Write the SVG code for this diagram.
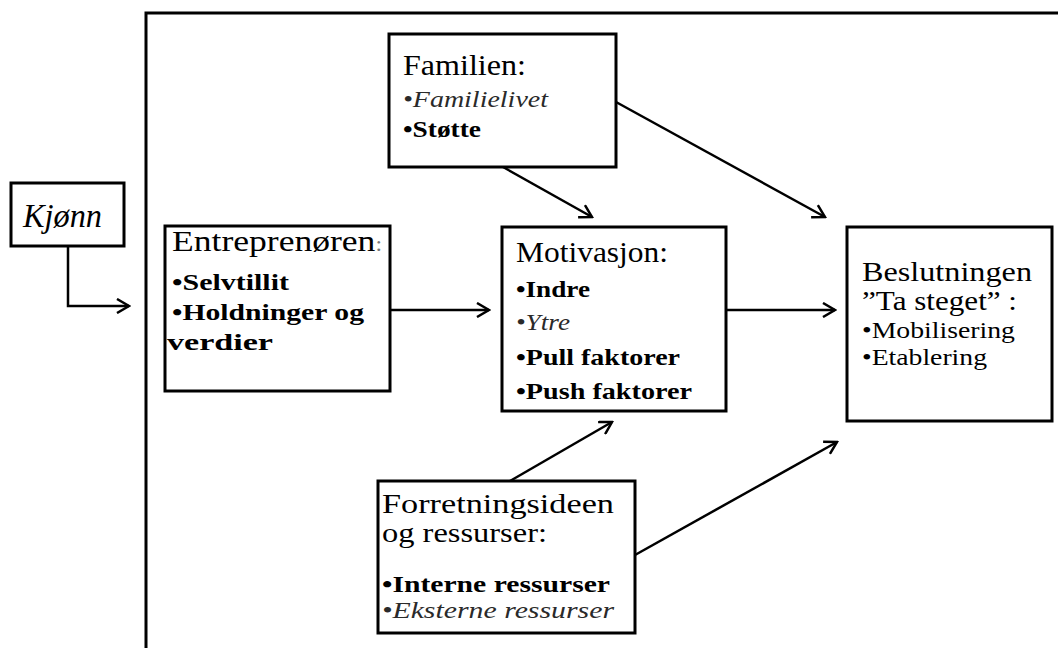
<svg xmlns="http://www.w3.org/2000/svg" width="1058" height="648" viewBox="0 0 1058 648">
<style>
.box{fill:#fff;stroke:#000;stroke-width:3}
.t{font-family:'Liberation Serif',Tinos,'Times New Roman',Times,serif;fill:#000}
.h{font-size:30px}
.b{font-size:24px;font-weight:bold}
.i{font-size:24px;font-style:italic;fill:#2a2a2a}
.n{font-size:24px}
.c{fill:none;stroke:#000;stroke-width:2.5}
</style>
<defs>
<marker id="ah" markerWidth="16" markerHeight="16" viewBox="-14 -8 16 16" refX="0" refY="0" orient="auto" markerUnits="userSpaceOnUse">
<path d="M-12,-7 L0,0 L-12,7" fill="none" stroke="#000" stroke-width="2.5"/>
</marker>
</defs>
<rect width="1058" height="648" fill="#fff"/>
<rect id="frame" x="146" y="13" width="930" height="660" fill="none" stroke="#000" stroke-width="3"/>
<g id="connectors">
<path class="c" d="M68,246 V306 H129" marker-end="url(#ah)"/>
<path class="c" d="M390,310 H489" marker-end="url(#ah)"/>
<path class="c" d="M726,310 H835" marker-end="url(#ah)"/>
<path class="c" d="M503,167 L592,217" marker-end="url(#ah)"/>
<path class="c" d="M616,102 L825,217" marker-end="url(#ah)"/>
<path class="c" d="M510,481 L612,422" marker-end="url(#ah)"/>
<path class="c" d="M635,555 L837,442" marker-end="url(#ah)"/>
</g>
<g id="kjonn">
<rect class="box" x="11" y="183" width="113" height="63"/>
<text class="t" x="23" y="227" font-size="34" font-style="italic" textLength="79" lengthAdjust="spacingAndGlyphs">Kjønn</text>
</g>
<g id="familien">
<rect class="box" x="389" y="34" width="227" height="133"/>
<text class="t h" x="403" y="75" textLength="123" lengthAdjust="spacingAndGlyphs">Familien:</text>
<text class="t i" x="403" y="107" textLength="145" lengthAdjust="spacingAndGlyphs">•Familielivet</text>
<text class="t b" x="403" y="137" textLength="78" lengthAdjust="spacingAndGlyphs">•Støtte</text>
</g>
<g id="entreprenoren">
<rect class="box" x="165" y="226" width="225" height="165"/>
<text class="t h" x="172" y="251" textLength="210" lengthAdjust="spacingAndGlyphs">Entreprenøren<tspan font-size="20" fill="#777">:</tspan></text>
<text class="t b" x="172" y="290" textLength="117" lengthAdjust="spacingAndGlyphs">•Selvtillit</text>
<text class="t b" x="172" y="320" textLength="192" lengthAdjust="spacingAndGlyphs">•Holdninger og</text>
<text class="t b" x="167" y="350" textLength="106" lengthAdjust="spacingAndGlyphs">verdier</text>
</g>
<g id="motivasjon">
<rect class="box" x="502" y="227" width="224" height="184"/>
<text class="t h" x="516" y="262" textLength="152" lengthAdjust="spacingAndGlyphs">Motivasjon:</text>
<text class="t b" x="516" y="297" textLength="74" lengthAdjust="spacingAndGlyphs">•Indre</text>
<text class="t i" x="516" y="330" textLength="54" lengthAdjust="spacingAndGlyphs">•Ytre</text>
<text class="t b" x="516" y="365" textLength="164" lengthAdjust="spacingAndGlyphs">•Pull faktorer</text>
<text class="t b" x="516" y="399" textLength="176" lengthAdjust="spacingAndGlyphs">•Push faktorer</text>
</g>
<g id="beslutningen">
<rect class="box" x="847" y="227" width="205" height="194"/>
<text class="t" x="862" y="281" font-size="27" textLength="170" lengthAdjust="spacingAndGlyphs">Beslutningen</text>
<text class="t" x="862" y="310" font-size="27" textLength="155" lengthAdjust="spacingAndGlyphs">”Ta steget” :</text>
<text class="t n" x="862" y="338" textLength="153" lengthAdjust="spacingAndGlyphs">•Mobilisering</text>
<text class="t n" x="862" y="365" textLength="125" lengthAdjust="spacingAndGlyphs">•Etablering</text>
</g>
<g id="forretningsideen">
<rect class="box" x="378" y="481" width="257" height="152"/>
<text class="t" x="382" y="513" font-size="27" textLength="232" lengthAdjust="spacingAndGlyphs">Forretningsideen</text>
<text class="t" x="382" y="542" font-size="27" textLength="165" lengthAdjust="spacingAndGlyphs">og ressurser:</text>
<text class="t b" x="382" y="592" textLength="228" lengthAdjust="spacingAndGlyphs">•Interne ressurser</text>
<text class="t i" x="382" y="618" textLength="232" lengthAdjust="spacingAndGlyphs">•Eksterne ressurser</text>
</g>
</svg>
